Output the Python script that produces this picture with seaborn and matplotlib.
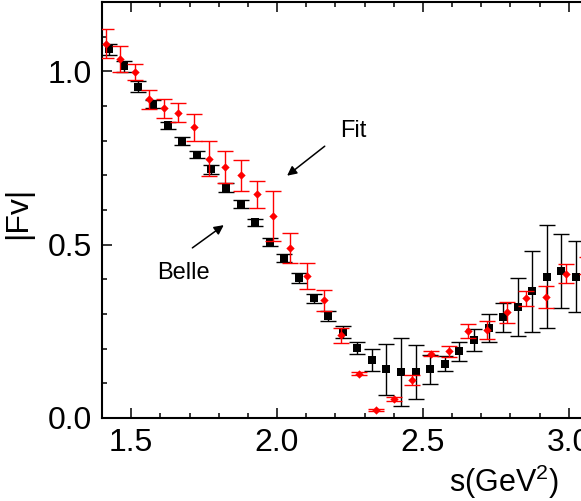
import matplotlib
matplotlib.use("Agg")
from matplotlib import pyplot as plt
from matplotlib.ticker import MultipleLocator, FormatStrFormatter
import pandas as pd
import seaborn as sns

# Belle data points (black squares)
belle_s = [1.425, 1.475, 1.525, 1.575, 1.625, 1.675, 1.725, 1.775, 1.825, 1.875,
           1.925, 1.975, 2.025, 2.075, 2.125, 2.175, 2.225, 2.275, 2.325, 2.375,
           2.425, 2.475, 2.525, 2.575, 2.625, 2.675, 2.725, 2.775, 2.825, 2.875,
           2.925, 2.975, 3.025]
belle_fv = [1.064, 1.014, 0.956, 0.905, 0.844, 0.799, 0.760, 0.717, 0.664, 0.618,
            0.564, 0.508, 0.461, 0.404, 0.345, 0.294, 0.248, 0.202, 0.167, 0.140,
            0.133, 0.133, 0.140, 0.157, 0.192, 0.225, 0.260, 0.290, 0.321, 0.365,
            0.408, 0.424, 0.408]
belle_err = [0.016, 0.016, 0.015, 0.012, 0.011, 0.012, 0.010, 0.012, 0.013, 0.011,
             0.011, 0.012, 0.012, 0.014, 0.014, 0.014, 0.016, 0.016, 0.032, 0.073,
             0.097, 0.077, 0.041, 0.022, 0.027, 0.033, 0.040, 0.043, 0.084, 0.118,
             0.148, 0.108, 0.103]

# Fit points (red diamonds)
fit_s = [1.414, 1.463, 1.512, 1.561, 1.612, 1.662, 1.716, 1.768, 1.821, 1.876,
         1.932, 1.987, 2.043, 2.101, 2.161, 2.219, 2.280, 2.339, 2.401, 2.462,
         2.527, 2.591, 2.656, 2.721, 2.787, 2.853, 2.923, 2.991, 3.062]
fit_fv = [1.080, 1.035, 0.997, 0.919, 0.893, 0.881, 0.838, 0.748, 0.725, 0.700,
          0.645, 0.582, 0.490, 0.409, 0.339, 0.238, 0.128, 0.023, 0.055, 0.109,
          0.186, 0.192, 0.251, 0.254, 0.305, 0.345, 0.349, 0.416, 0.440]
fit_err = [0.041, 0.038, 0.023, 0.028, 0.028, 0.028, 0.040, 0.051, 0.046, 0.045,
           0.039, 0.072, 0.044, 0.038, 0.029, 0.021, 0.004, 0.003, 0.005, 0.014,
           0.007, 0.016, 0.019, 0.026, 0.030, 0.022, 0.032, 0.027, 0.025]

sns.set_style("ticks")
plt.rcParams["font.family"] = ["Liberation Sans", "DejaVu Sans"]
plt.rcParams["mathtext.default"] = "regular"
plt.rcParams["xtick.direction"] = "in"
plt.rcParams["ytick.direction"] = "in"
for key in ["text.color", "axes.labelcolor", "axes.edgecolor",
            "xtick.color", "ytick.color"]:
    plt.rcParams[key] = "black"

belle = pd.DataFrame({"s": belle_s, "fv": belle_fv, "err": belle_err})
fit = pd.DataFrame({"s": fit_s, "fv": fit_fv, "err": fit_err})

fig = plt.figure(figsize=(5.81, 5.01), dpi=100)
# axes run past the right edge of the picture, as in the cropped original
ax = fig.add_axes([0.1756, 0.1657, 0.8535, 0.8303])

ax.errorbar(belle["s"], belle["fv"], yerr=belle["err"], fmt="none",
            ecolor="black", elinewidth=1.0, capsize=6, capthick=1.0, zorder=2)
sns.scatterplot(data=belle, x="s", y="fv", marker="s", s=28, color="black",
                linewidth=0, ax=ax, zorder=3)

ax.errorbar(fit["s"], fit["fv"], yerr=fit["err"], fmt="none",
            ecolor="red", elinewidth=1.0, capsize=6, capthick=1.0, zorder=4)
sns.scatterplot(data=fit, x="s", y="fv", marker="D", s=18, color="red",
                linewidth=0, ax=ax, zorder=5)

ax.set_xlim(1.4, 3.1)
ax.set_ylim(0.0, 1.2)
ax.xaxis.set_major_locator(MultipleLocator(0.5))
ax.xaxis.set_minor_locator(MultipleLocator(0.1))
ax.yaxis.set_major_locator(MultipleLocator(0.5))
ax.yaxis.set_minor_locator(MultipleLocator(0.1))
ax.xaxis.set_major_formatter(FormatStrFormatter("%.1f"))
ax.yaxis.set_major_formatter(FormatStrFormatter("%.1f"))
ax.tick_params(which="both", top=True, right=True, width=1.1, labelsize=23)
ax.tick_params(which="major", length=7, pad=7)
ax.tick_params(which="minor", length=3.6)
for sp in ax.spines.values():
    sp.set_linewidth(1.5)

ax.set_xlabel(r"s(GeV$^2$)", fontsize=22)
ax.xaxis.set_label_coords(0.811, -0.107)
ax.set_ylabel("|Fv|", fontsize=23)
ax.yaxis.set_label_coords(-0.139, 0.493)

arrow = dict(arrowstyle="-|>", color="black", lw=1.1, mutation_scale=14)
ax.annotate("", xy=(2.027, 0.694), xytext=(2.171, 0.789), arrowprops=arrow)
ax.text(2.260, 0.829, "Fit", fontsize=17, ha="center", va="center")
ax.annotate("", xy=(1.825, 0.561), xytext=(1.702, 0.486), arrowprops=arrow)
ax.text(1.678, 0.419, "Belle", fontsize=17, ha="center", va="center")

fig.savefig("out.png", dpi=100)
